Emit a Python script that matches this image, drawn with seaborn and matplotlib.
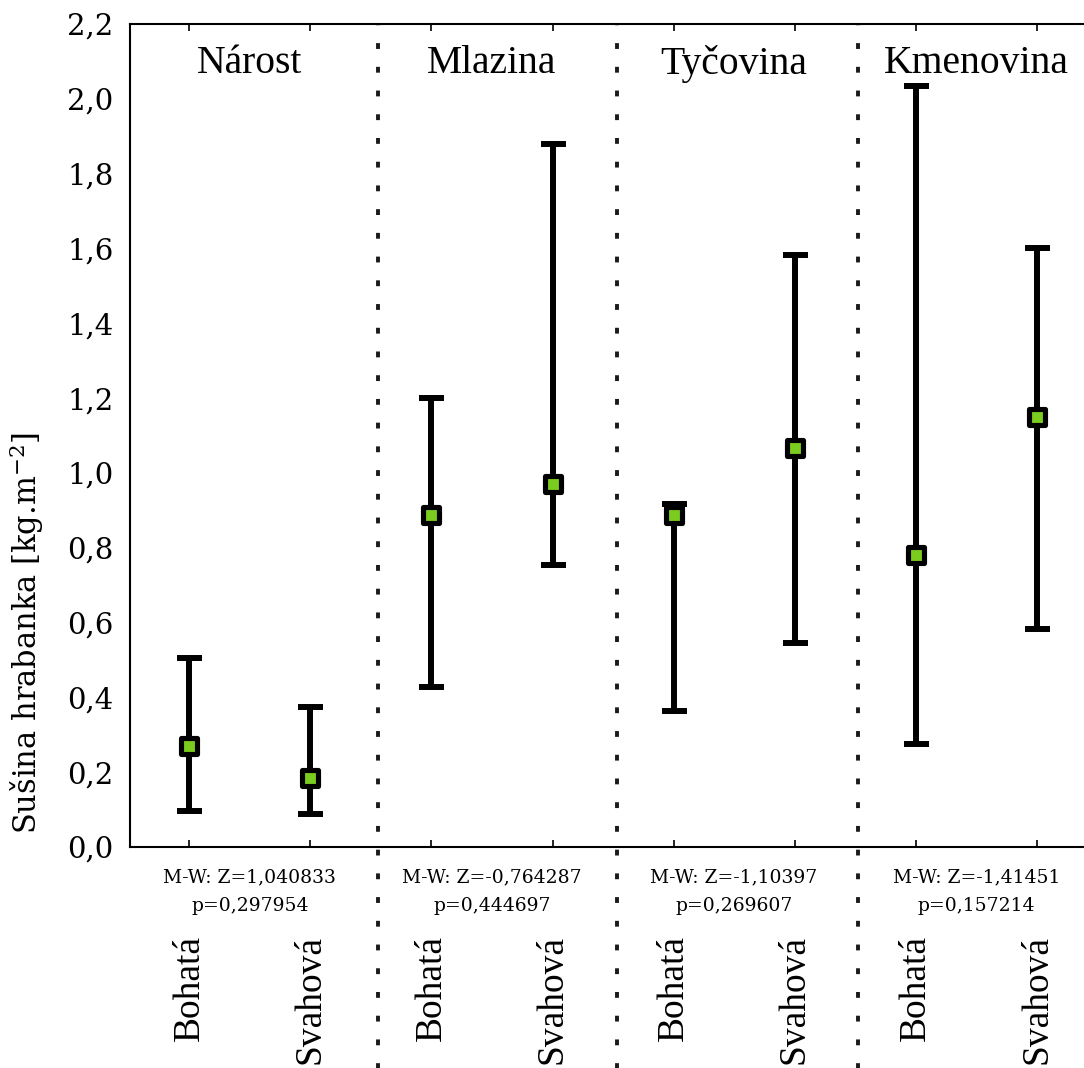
import matplotlib
matplotlib.use("Agg")
import matplotlib.pyplot as plt
import seaborn as sns
import numpy as np
import pandas as pd

# ---- data ----
stages = ["Nárost", "Mlazina", "Tyčovina", "Kmenovina"]
types = ["Bohatá", "Svahová"]
means = [0.270, 0.184, 0.887, 0.970, 0.887, 1.067, 0.781, 1.149]
upper = [0.505, 0.374, 1.200, 1.879, 0.917, 1.582, 2.034, 1.601]
lower = [0.096, 0.088, 0.428, 0.754, 0.364, 0.545, 0.275, 0.583]
mw_z = ["1,040833", "-0,764287", "-1,10397", "-1,41451"]
mw_p = ["0,297954", "0,444697", "0,269607", "0,157214"]
separators = [1.56, 3.53, 5.52]
yticks = [0.0, 0.2, 0.4, 0.6, 0.8, 1.0, 1.2, 1.4, 1.6, 1.8, 2.0, 2.2]

sns.set_theme(style="white")
plt.rcParams["font.family"] = ["DejaVu Serif"]
plt.rcParams["mathtext.fontset"] = "dejavuserif"
for k in ["text.color", "axes.labelcolor", "xtick.color", "ytick.color",
          "axes.edgecolor"]:
    plt.rcParams[k] = "black"

labels = [t for s in stages for t in types]
df = pd.DataFrame({
    "pos": np.arange(len(means)),
    "label": labels,
    "mean": means,
    "lo": lower,
    "hi": upper,
})

fig = plt.figure(figsize=(10.84, 10.68), dpi=100)
ax = fig.add_axes([130/1084, 221/1068, 954/1084, 823/1068])

yerr = np.vstack([df["mean"] - df["lo"], df["hi"] - df["mean"]])
ax.errorbar(df["pos"], df["mean"], yerr=yerr, fmt="none", ecolor="black",
            elinewidth=4.3, capsize=9, capthick=4.3, zorder=2)
sns.scatterplot(data=df, x="pos", y="mean", ax=ax, marker="s", s=135,
                color="#7acc1e", edgecolor="black", linewidth=3.7, zorder=3,
                legend=False)

ax.set_xlim(-0.49, 7.39)
ax.set_ylim(0, 2.2)
ax.set_yticks(yticks)
ax.set_yticklabels([f"{v:.1f}".replace(".", ",") for v in yticks],
                   fontsize=21, family="DejaVu Serif")
ax.set_xticks(df["pos"])
ax.set_xticklabels([])
ax.tick_params(axis="x", which="both", direction="in", length=5, width=1.2,
               top=True, bottom=True, color="black")
ax.tick_params(axis="y", direction="in", length=4, width=1.2, color="black",
               pad=12)
for side in ["left", "bottom", "top"]:
    ax.spines[side].set_color("black")
    ax.spines[side].set_linewidth(1.5)
ax.spines["right"].set_visible(False)

ax.set_xlabel("")
ax.set_ylabel("Sušina hrabanka [kg.m$^{-2}$]", fontsize=22,
              family="DejaVu Serif")
ax.yaxis.set_label_coords(-84/954, 0.26)

# separators
for xs in separators:
    ax.axvline(xs, ymin=-0.27, ymax=1.0, color="#1a1a1a",
               linestyle=(0, (1.5, 4.6)), linewidth=2.8, clip_on=False)

# headers and annotations
for i, s in enumerate(stages):
    cx = 2*i + 0.5
    ax.text(cx, 2.145, s, ha="center", va="top", fontsize=28.5,
            family="Liberation Serif")
    ax.text(cx, -0.057, f"M-W: Z={mw_z[i]}\np={mw_p[i]}", ha="center",
            va="top", fontsize=13.5, family="DejaVu Serif", linespacing=1.75)

for p, lab in zip(df["pos"], df["label"]):
    ax.text(p, -0.235, lab, rotation=90, ha="center", va="top", fontsize=27,
            family="Liberation Serif", clip_on=False)

fig.savefig("out.png", dpi=100)
